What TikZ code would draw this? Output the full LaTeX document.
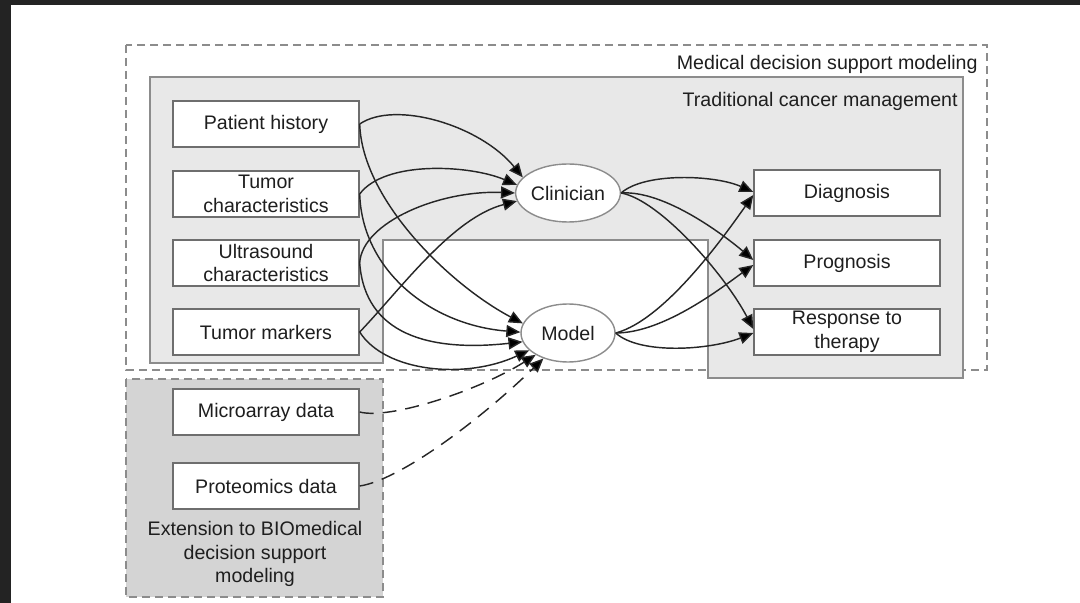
\documentclass[tikz,border=0pt]{standalone}
\usepackage{fontspec}
\setmainfont{Liberation Sans}
\usetikzlibrary{arrows.meta,shapes.geometric}

\definecolor{ink}{HTML}{1E1E1E}
\definecolor{framedark}{HTML}{232323}
\definecolor{tradfill}{HTML}{E8E8E8}
\definecolor{extfill}{HTML}{D4D4D4}
\definecolor{rimgray}{HTML}{8C8C8C}
\definecolor{boxrim}{HTML}{6E6E6E}
\definecolor{edgeink}{HTML}{262626}

\begin{document}
\begin{tikzpicture}[x=0.5pt,y=-0.5pt,
  every node/.style={font=\fontsize{9.8}{11.75}\selectfont, text=ink},
  databox/.style={draw=boxrim, fill=white, line width=0.7pt, minimum width=93pt,
    minimum height=23pt, inner sep=0pt, align=center},
  agent/.style={ellipse, draw=rimgray, fill=white, line width=0.7pt,
    minimum width=47pt, minimum height=29pt, inner sep=0pt},
  flow/.style={draw=edgeink, line width=0.72pt,
    -{Triangle[length=7pt,width=6pt,fill=black]}},
  extflow/.style={flow, dash pattern=on 7pt off 4.5pt},
  groupline/.style={draw=rimgray, line width=0.7pt, dash pattern=on 4pt off 2.5pt},
  grouptitle/.style={anchor=east, inner sep=0pt}
]
\useasboundingbox (0,0) rectangle (1080,603);
\fill[white] (0,0) rectangle (1080,603);
\fill[framedark] (0,0) rectangle (1080,5);
\fill[framedark] (0,0) rectangle (11,603);

% enclosing groups
\draw[groupline] (126,45) rectangle (987,370);
\draw[rimgray, fill=tradfill, line width=0.8pt]
  (150,77) -- (963,77) -- (963,378) -- (708,378) -- (708,240)
  -- (383,240) -- (383,363) -- (150,363) -- cycle;
\draw[groupline, fill=extfill] (126,379) rectangle (383,597);

% group titles
\node[grouptitle] (mdsm) at (978,64) {Medical decision support modeling};
\node[grouptitle] (tcm) at (958,101) {Traditional cancer management};
\node[align=center] (ext) at (255,554) {Extension to BIOmedical\\decision support\\modeling};

% inputs
\node[databox] (ph) at (266,124) {Patient history};
\node[databox] (tc) at (266,194) {Tumor\\characteristics};
\node[databox] (us) at (266,263) {Ultrasound\\characteristics};
\node[databox] (tm) at (266,332) {Tumor markers};
\node[databox] (mic) at (266,412) {Microarray data};
\node[databox] (pro) at (266,486) {Proteomics data};

% decision makers
\node[agent] (clin) at (568,193) {Clinician};
\node[agent] (model) at (568,333) {Model};

% outcomes
\node[databox] (dia) at (847,193) {Diagnosis};
\node[databox] (prog) at (847,263) {Prognosis};
\node[databox] (resp) at (847,332) {Response to\\therapy};

% inputs to clinician
\draw[flow] (ph.east) .. controls (395,100) and (480,125) .. (clin.161);
\draw[flow] (tc.east) .. controls (385,160) and (470,165) .. (clin.171);
\draw[flow] (us.east) .. controls (362,222) and (440,190) .. (clin.180);
\draw[flow] (tm.east) .. controls (400,290) and (452,218) .. (clin.189);

% inputs to model
\draw[flow] (ph.east) .. controls (362,200) and (450,285) .. (model.168);
\draw[flow] (tc.east) .. controls (362,270) and (430,325) .. (model.179);
\draw[flow] (us.east) .. controls (365,335) and (430,352) .. (model.191);
\draw[flow] (tm.east) .. controls (385,372) and (465,380) .. (model.204);
\draw[extflow] (mic.east) .. controls (390,420) and (480,390) .. (model.214);
\draw[extflow] (pro.east) .. controls (400,480) and (480,420) .. (model.226);

% clinician to outcomes
\draw[flow] (clin.east) .. controls (645,172) and (715,175) .. ([yshift=0.5pt]dia.west);
\draw[flow] (clin.east) .. controls (665,190) and (725,236) .. ([yshift=1.5pt]prog.west);
\draw[flow] (clin.east) .. controls (660,200) and (725,275) .. ([yshift=1.5pt]resp.west);

% model to outcomes
\draw[flow] (model.east) .. controls (665,320) and (725,235) .. ([yshift=-1pt]dia.west);
\draw[flow] (model.east) .. controls (665,333) and (725,285) .. ([yshift=-1pt]prog.west);
\draw[flow] (model.east) .. controls (640,355) and (710,350) .. ([yshift=-0.5pt]resp.west);
\end{tikzpicture}
\end{document}
